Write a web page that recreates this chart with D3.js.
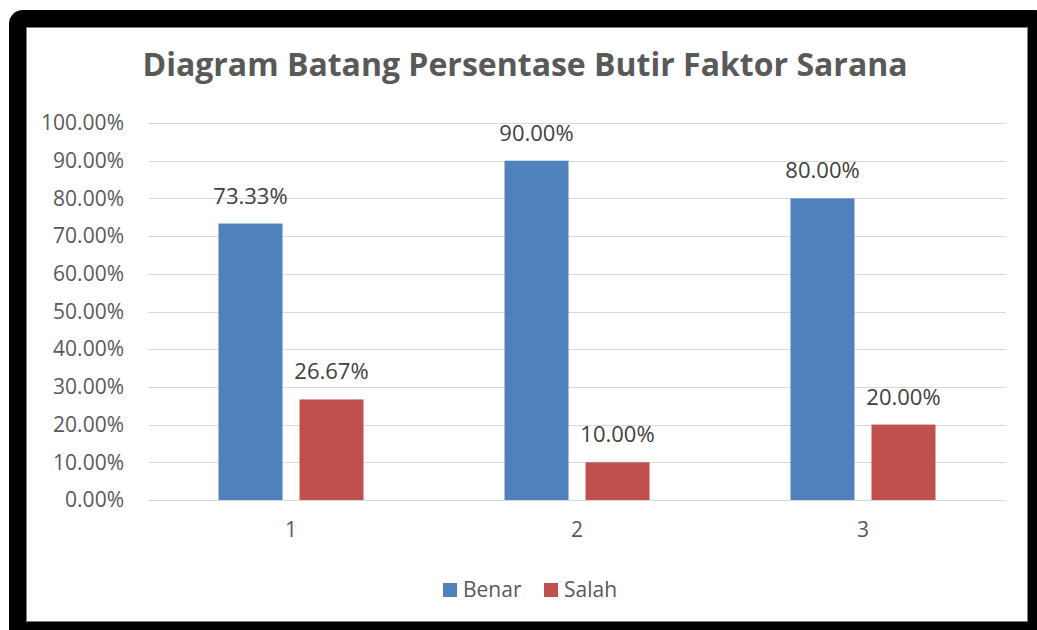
<!DOCTYPE html>
<html>
<head>
<meta charset="utf-8">
<script src="https://cdn.jsdelivr.net/npm/d3@7"></script>
<style>
  body { margin: 0; background: #fff; }
  text { font-family: "Open Sans", "Noto Sans", sans-serif; }
</style>
</head>
<body>
<script>
(function() {

    var width = 1037,
        height = 630;

    // data
    var categories = ["1", "2", "3"];
    var seriesNames = ["Benar", "Salah"];
    var benar = [0.7333, 0.90, 0.80];
    var salah = [0.2667, 0.10, 0.20];
    var yTicks = [0, 0.1, 0.2, 0.3, 0.4, 0.5, 0.6, 0.7, 0.8, 0.9, 1.0];
    var colors = ["#4F81BD", "#C0504D"];

    var rows = categories.map(function(c, i) {
        return { cat: c, values: [benar[i], salah[i]] };
    });

    var svg = d3.select("body")
        .append("svg")
        .attr("width", width)
        .attr("height", height);

    // black frame round the chart
    svg.append("rect")
        .attr("x", 9).attr("y", 10)
        .attr("width", 1040).attr("height", 640)
        .attr("rx", 14)
        .attr("fill", "#000");

    svg.append("rect")
        .attr("x", 26.5).attr("y", 27.5)
        .attr("width", 1001).attr("height", 594)
        .attr("fill", "#fff")
        .attr("stroke", "#7f7f7f")
        .attr("stroke-width", 1);

    var left = 148, right = 1006, top = 123, bottom = 500;

    var y = d3.scaleLinear()
        .domain([0, 1])
        .range([bottom, top]);

    var x0 = d3.scaleBand()
        .domain(categories)
        .range([left, right]);

    var groupW = x0.bandwidth() * 0.507;

    var x1 = d3.scaleBand()
        .domain(seriesNames)
        .range([0, groupW])
        .paddingInner(0.21);

    // title
    svg.append("text")
        .attr("x", 525)
        .attr("y", 76)
        .attr("text-anchor", "middle")
        .attr("font-size", 32)
        .attr("font-weight", 700)
        .attr("fill", "#595959")
        .text("Diagram Batang Persentase Butir Faktor Sarana");

    // gridlines
    svg.append("g")
        .selectAll("line")
        .data(yTicks)
        .enter().append("line")
        .attr("x1", left).attr("x2", right)
        .attr("y1", function(d) { return Math.round(y(d)) + 0.5; })
        .attr("y2", function(d) { return Math.round(y(d)) + 0.5; })
        .attr("stroke", "#d9d9d9")
        .attr("stroke-width", 1);

    // y axis labels
    var yAxis = d3.axisLeft(y)
        .tickValues(yTicks)
        .tickFormat(function(d) { return (d * 100).toFixed(2) + "%"; })
        .tickSize(0)
        .tickPadding(24);

    var yg = svg.append("g")
        .attr("transform", "translate(" + left + ",0)")
        .call(yAxis);
    yg.select(".domain").remove();
    yg.selectAll("text")
        .attr("font-size", 21)
        .attr("fill", "#595959")
        .style("font-family", "'Open Sans', sans-serif");

    // x axis labels
    var xAxis = d3.axisBottom(x0)
        .tickSize(0)
        .tickPadding(22);

    var xg = svg.append("g")
        .attr("transform", "translate(0," + bottom + ")")
        .call(xAxis);
    xg.select(".domain").remove();
    xg.selectAll("text")
        .attr("font-size", 21)
        .attr("fill", "#595959")
        .style("font-family", "'Open Sans', sans-serif");

    // bars
    var groups = svg.append("g")
        .selectAll("g")
        .data(rows)
        .enter().append("g")
        .attr("transform", function(d) {
            return "translate(" + (x0(d.cat) + (x0.bandwidth() - groupW) / 2) + ",0)";
        });

    groups.selectAll("rect")
        .data(function(d) { return d.values.map(function(v, i) { return { name: seriesNames[i], value: v, i: i }; }); })
        .enter().append("rect")
        .attr("x", function(d) { return x1(d.name); })
        .attr("y", function(d) { return y(d.value); })
        .attr("width", x1.bandwidth())
        .attr("height", function(d) { return bottom - y(d.value); })
        .attr("fill", function(d) { return colors[d.i]; });

    groups.selectAll("text")
        .data(function(d) { return d.values.map(function(v, i) { return { name: seriesNames[i], value: v }; }); })
        .enter().append("text")
        .attr("x", function(d) { return x1(d.name) + x1.bandwidth() / 2; })
        .attr("y", function(d) { return y(d.value) - 20; })
        .attr("text-anchor", "middle")
        .attr("font-size", 22)
        .attr("fill", "#404040")
        .text(function(d) { return (d.value * 100).toFixed(2) + "%"; });

    // legend
    var legend = svg.append("g")
        .selectAll("g")
        .data(seriesNames)
        .enter().append("g")
        .attr("transform", function(d, i) { return "translate(" + (443 + i * 101) + ",583)"; });

    legend.append("rect")
        .attr("width", 14).attr("height", 14)
        .attr("fill", function(d, i) { return colors[i]; });

    legend.append("text")
        .attr("x", 20)
        .attr("y", 14)
        .attr("font-size", 21)
        .attr("fill", "#595959")
        .text(function(d) { return d; });

})();
</script>
</body>
</html>
